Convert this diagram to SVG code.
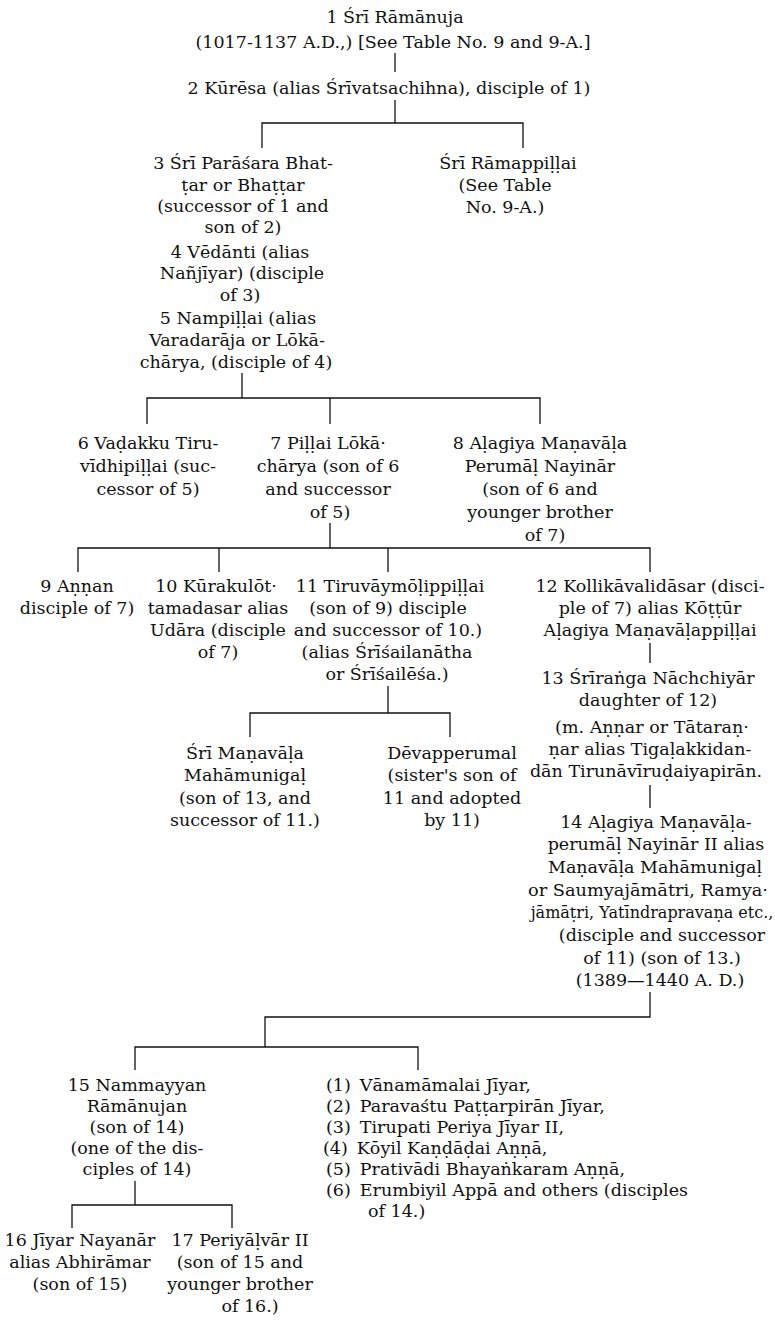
<svg xmlns="http://www.w3.org/2000/svg" width="775" height="1328" viewBox="0 0 775 1328">
<style>
.t{font-family:"DejaVu Serif","Liberation Serif",serif;font-size:17.5px;fill:#111;text-anchor:middle}
.s{font-family:"DejaVu Serif","Liberation Serif",serif;font-size:17.5px;fill:#111;text-anchor:start}
.c{stroke:#111;stroke-width:1.3;fill:none}
</style>
<rect width="775" height="1328" fill="#fff"/>
<g id="connectors" class="c">
<path d="M395 53V72"/>
<path d="M395 100V123"/>
<path d="M262 148V123H523V148"/>
<path d="M242 373V398"/>
<path d="M147 424V398H540V424M330 398V424"/>
<path d="M330 523V548"/>
<path d="M78 572V548H650V572M219 548V572M388 548V572"/>
<path d="M650 643V663"/>
<path d="M650 785V808"/>
<path d="M388 686V713"/>
<path d="M250 737V713H450V737"/>
<path d="M650 992V1017H265V1047"/>
<path d="M135 1070V1047H418V1070"/>
<path d="M135 1181V1205"/>
<path d="M72 1228V1205H232V1228"/>
</g>
<g id="n1" class="t">
<text x="395" y="23">1 Śrī Rāmānuja</text>
<text x="393" y="48">(1017-1137 A.D.,) [See Table No. 9 and 9-A.]</text>
</g>
<g id="n2" class="t">
<text x="389" y="94">2 Kūrēsa (alias Śrīvatsachihna), disciple of 1)</text>
</g>
<g id="n3" class="t">
<text x="243" y="169">3 Śrī Parāśara Bhat-</text>
<text x="243" y="191">ṭar or Bhaṭṭar</text>
<text x="243" y="212">(successor of 1 and</text>
<text x="243" y="233">son of 2)</text>
</g>
<g id="n4" class="t">
<text x="240" y="258">4 Vēdānti (alias</text>
<text x="242" y="279">Nañjīyar) (disciple</text>
<text x="240" y="301">of 3)</text>
</g>
<g id="n5" class="t">
<text x="238" y="324">5 Nampiḷḷai (alias</text>
<text x="237" y="346">Varadarāja or Lōkā-</text>
<text x="236" y="368">chārya, (disciple of 4)</text>
</g>
<g id="nRamappillai" class="t">
<text x="508" y="169">Śrī Rāmappiḷḷai</text>
<text x="505" y="191">(See Table</text>
<text x="505" y="213">No. 9-A.)</text>
</g>
<g id="n6" class="t">
<text x="148" y="449">6 Vaḍakku Tiru-</text>
<text x="148" y="472">vīdhipiḷḷai (suc-</text>
<text x="148" y="495">cessor of 5)</text>
</g>
<g id="n7" class="t">
<text x="328" y="449">7 Piḷḷai Lōkā·</text>
<text x="328" y="472">chārya (son of 6</text>
<text x="328" y="495">and successor</text>
<text x="330" y="518">of 5)</text>
</g>
<g id="n8" class="t">
<text x="540" y="449">8 Aḷagiya Maṇavāḷa</text>
<text x="540" y="472">Perumāḷ Nayinār</text>
<text x="540" y="495">(son of 6 and</text>
<text x="540" y="518">younger brother</text>
<text x="545" y="541">of 7)</text>
</g>
<g id="n9" class="t">
<text x="77" y="592">9 Aṇṇan</text>
<text x="77" y="614">disciple of 7)</text>
</g>
<g id="n10" class="t">
<text x="216" y="592">10 Kūrakulōt·</text>
<text x="218" y="614">tamadasar alias</text>
<text x="218" y="636">Udāra (disciple</text>
<text x="218" y="658">of 7)</text>
</g>
<g id="n11" class="t">
<text x="390" y="592">11 Tiruvāymōḷippiḷḷai</text>
<text x="388" y="614">(son of 9) disciple</text>
<text x="388" y="636">and successor of 10.)</text>
<text x="387" y="658">(alias Śrīśailanātha</text>
<text x="387" y="680">or Śrīśailēśa.)</text>
</g>
<g id="n12" class="t">
<text x="650" y="592">12 Kollikāvalidāsar (disci-</text>
<text x="650" y="614">ple of 7) alias Kōṭṭūr</text>
<text x="650" y="636">Aḷagiya Maṇavāḷappiḷḷai</text>
</g>
<g id="n13" class="t">
<text x="648" y="684">13 Śrīraṅga Nāchchiyār</text>
<text x="648" y="706">daughter of 12)</text>
<text x="652" y="733">(m. Aṇṇar or Tātaraṇ·</text>
<text x="650" y="755">ṇar alias Tigaḷakkidan-</text>
<text x="646" y="777">dān Tirunāvīruḍaiyapirān.</text>
</g>
<g id="n14" class="t">
<text x="656" y="828">14 Aḷagiya Maṇavāḷa-</text>
<text x="656" y="850">perumāḷ Nayinār II alias</text>
<text x="655" y="873">Maṇavāḷa Mahāmunigaḷ</text>
<text x="648" y="896" textLength="240" lengthAdjust="spacingAndGlyphs">or Saumyajāmātri, Ramya·</text>
<text x="652" y="918" style="font-size:16px">jāmāṭri, Yatīndrapravaṇa etc.,</text>
<text x="662" y="941">(disciple and successor</text>
<text x="662" y="964">of 11) (son of 13.)</text>
<text x="660" y="986">(1389—1440 A. D.)</text>
</g>
<g id="nManavala" class="t">
<text x="245" y="759">Śrī Maṇavāḷa</text>
<text x="245" y="781">Mahāmunigaḷ</text>
<text x="245" y="804">(son of 13, and</text>
<text x="245" y="826">successor of 11.)</text>
</g>
<g id="nDevapperumal" class="t">
<text x="452" y="759">Dēvapperumal</text>
<text x="452" y="781">(sister's son of</text>
<text x="452" y="804">11 and adopted</text>
<text x="452" y="826">by 11)</text>
</g>
<g id="n15" class="t">
<text x="137" y="1091">15 Nammayyan</text>
<text x="137" y="1112">Rāmānujan</text>
<text x="137" y="1133">(son of 14)</text>
<text x="137" y="1154">(one of the dis-</text>
<text x="137" y="1175">ciples of 14)</text>
</g>
<g id="nDisciples" class="s">
<text x="326" y="1091">(1)<tspan dx="9">Vānamāmalai Jīyar,</tspan></text>
<text x="326" y="1112">(2)<tspan dx="9">Paravaśtu Paṭṭarpirān Jīyar,</tspan></text>
<text x="326" y="1133">(3)<tspan dx="9">Tirupati Periya Jīyar II,</tspan></text>
<text x="323" y="1154">(4)<tspan dx="9">Kōyil Kaṇḍāḍai Aṇṇā,</tspan></text>
<text x="326" y="1175">(5)<tspan dx="9">Prativādi Bhayaṅkaram Aṇṇā,</tspan></text>
<text x="326" y="1196">(6)<tspan dx="9">Erumbiyil Appā and others (disciples</tspan></text>
<text x="368" y="1217">of 14.)</text>
</g>
<g id="n16" class="t">
<text x="80" y="1246">16 Jīyar Nayanār</text>
<text x="80" y="1268">alias Abhirāmar</text>
<text x="80" y="1290">(son of 15)</text>
</g>
<g id="n17" class="t">
<text x="240" y="1246">17 Periyāḷvār II</text>
<text x="240" y="1268">(son of 15 and</text>
<text x="240" y="1290">younger brother</text>
<text x="250" y="1312">of 16.)</text>
</g>
</svg>
